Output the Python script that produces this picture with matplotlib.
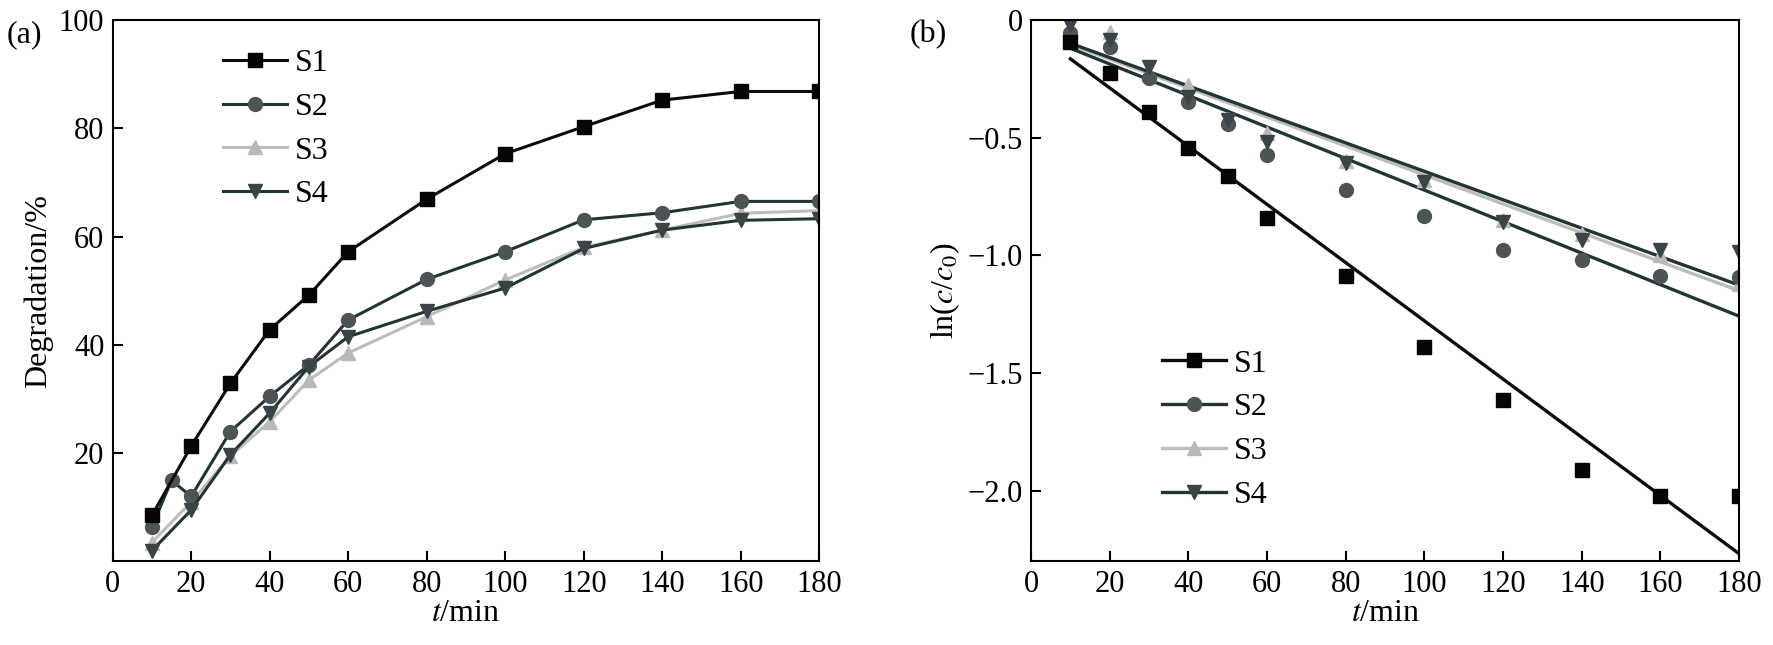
import matplotlib
matplotlib.use("Agg")
import matplotlib.pyplot as plt
from matplotlib.lines import Line2D

plt.rcParams["font.family"] = ["Liberation Serif", "DejaVu Serif"]
plt.rcParams["mathtext.fontset"] = "stix"
plt.rcParams["font.size"] = 22

# ---- panel (a): degradation vs time ----
t_a = [10, 20, 30, 40, 50, 60, 80, 100, 120, 140, 160, 180]
t_s2 = [10, 15, 20, 30, 40, 50, 60, 80, 100, 120, 140, 160, 180]
deg_s1 = [8.5, 21.3, 32.9, 42.8, 49.2, 57.2, 66.9, 75.3, 80.3, 85.2, 86.8, 86.8]
deg_s2 = [6.4, 15.0, 12.0, 24.0, 30.5, 36.3, 44.6, 52.1, 57.2, 63.1, 64.4, 66.5, 66.5]
deg_s3 = [3.5, 11.0, 19.5, 25.8, 33.5, 38.5, 45.2, 52.0, 58.0, 61.2, 64.3, 64.8]
deg_s4 = [2.0, 9.5, 19.7, 27.4, 36.0, 41.5, 46.2, 50.5, 57.8, 61.2, 63.0, 63.3]

# ---- panel (b): ln(c/c0) vs time ----
t_b = [10, 20, 30, 40, 50, 60, 80, 100, 120, 140, 160, 180]
ln_s1 = [-0.092, -0.227, -0.390, -0.545, -0.662, -0.839, -1.088, -1.388, -1.612, -1.910, -2.023, -2.023]
ln_s2 = [-0.056, -0.113, -0.248, -0.347, -0.440, -0.574, -0.722, -0.833, -0.975, -1.020, -1.088, -1.091]
ln_s3 = [-0.040, -0.050, -0.230, -0.276, -0.420, -0.480, -0.600, -0.680, -0.850, -0.910, -1.000, -1.120]
ln_s4 = [-0.020, -0.085, -0.198, -0.326, -0.425, -0.517, -0.609, -0.687, -0.857, -0.935, -0.977, -0.985]

# fitted lines (value at t=10 and t=180)
fit_t = [10, 180]
fit_s1 = [-0.165, -2.267]
fit_s2 = [-0.120, -1.258]
fit_s3 = [-0.105, -1.150]
fit_s4 = [-0.099, -1.126]

labels = ["S1", "S2", "S3", "S4"]
markers = ["s", "o", "^", "v"]
line_cols = ["#0c0c0c", "#233434", "#bdbdbd", "#233434"]
mark_cols = ["#050505", "#4d5455", "#b9b9b9", "#3a4446"]

fig = plt.figure(figsize=(17.74, 6.45), dpi=100)
ax_a = fig.add_axes([0.0635, 0.1295, 0.3983, 0.8395])
ax_b = fig.add_axes([0.5812, 0.1295, 0.3991, 0.8395])


def style_axes(ax):
    for sp in ax.spines.values():
        sp.set_linewidth(1.5)
    ax.tick_params(direction="in", length=7, width=1.5, labelsize=22,
                   top=False, right=False, pad=6)


# panel (a)
a_data = [(t_a, deg_s1), (t_s2, deg_s2), (t_a, deg_s3), (t_a, deg_s4)]
order = [2, 1, 3, 0]
handles_a = {}
for i in order:
    tx, vals = a_data[i]
    h, = ax_a.plot(tx, vals, marker=markers[i], color=line_cols[i], lw=2.2,
                   ms=10, mfc=mark_cols[i], mec=mark_cols[i], label=labels[i])
    handles_a[i] = h
ax_a.set_xlim(0, 180)
ax_a.set_ylim(0, 100)
ax_a.set_xticks(range(0, 181, 20))
ax_a.set_yticks([20, 40, 60, 80, 100])
ax_a.set_xlabel("$t$/min", fontsize=23, labelpad=0)
ax_a.set_ylabel("Degradation/%", fontsize=23, labelpad=4)
style_axes(ax_a)
ax_a.legend([handles_a[i] for i in range(4)], labels, loc="upper left",
            bbox_to_anchor=(0.115, 1.0), frameon=False, fontsize=23,
            handlelength=2.0, handletextpad=0.25, labelspacing=0.45)
fig.text(0.004, 0.935, "(a)", fontsize=23)

# panel (b)
b_data = [ln_s1, ln_s2, ln_s3, ln_s4]
b_fits = [fit_s1, fit_s2, fit_s3, fit_s4]
for i in order:
    ax_b.plot(fit_t, b_fits[i], color=line_cols[i], lw=2.4)
for i in order:
    ax_b.plot(t_b, b_data[i], linestyle="none", marker=markers[i], ms=10,
              mfc=mark_cols[i], mec=mark_cols[i])
handles_b = [Line2D([], [], color=line_cols[i], lw=2.4, marker=markers[i],
                    ms=10, mfc=mark_cols[i], mec=mark_cols[i])
             for i in range(4)]
ax_b.set_xlim(0, 180)
ax_b.set_ylim(-2.3, 0)
ax_b.set_xticks(range(0, 181, 20))
ax_b.set_yticks([0, -0.5, -1.0, -1.5, -2.0])
ax_b.set_yticklabels(["0", "\u22120.5", "\u22121.0", "\u22121.5", "\u22122.0"])
ax_b.set_xlabel("$t$/min", fontsize=23, labelpad=0)
ax_b.set_ylabel(r"ln($c$/$c_0$)", fontsize=23, labelpad=4)
style_axes(ax_b)
ax_b.legend(handles_b, labels, loc="upper left", bbox_to_anchor=(0.145, 0.445),
            frameon=False, fontsize=23, handlelength=2.0, handletextpad=0.25,
            labelspacing=0.45)
fig.text(0.513, 0.935, "(b)", fontsize=23)

fig.savefig("out.png", dpi=100)
